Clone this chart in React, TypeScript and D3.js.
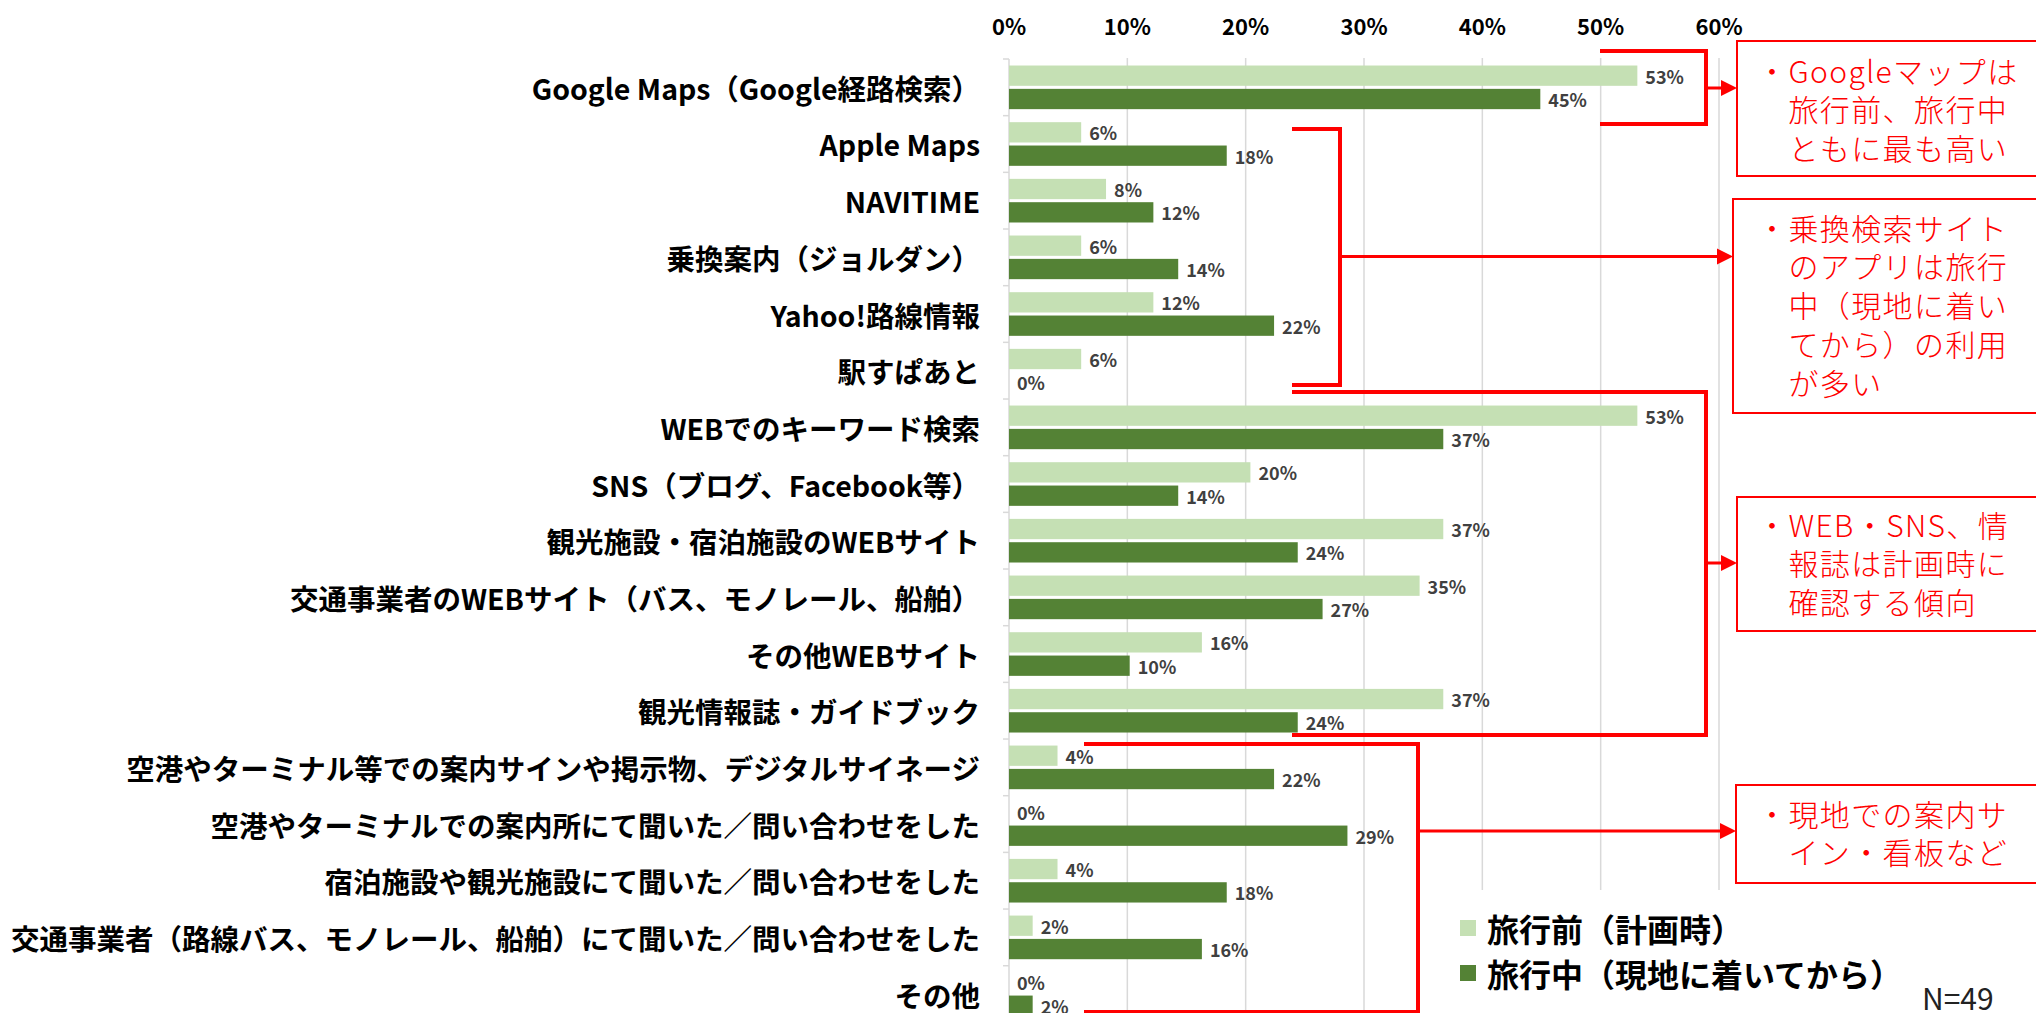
import React from "react";
import * as d3 from "d3";

const categories = [
  "Google Maps（Google経路検索）",
  "Apple Maps",
  "NAVITIME",
  "乗換案内（ジョルダン）",
  "Yahoo!路線情報",
  "駅すぱあと",
  "WEBでのキーワード検索",
  "SNS（ブログ、Facebook等）",
  "観光施設・宿泊施設のWEBサイト",
  "交通事業者のWEBサイト（バス、モノレール、船舶）",
  "その他WEBサイト",
  "観光情報誌・ガイドブック",
  "空港やターミナル等での案内サインや掲示物、デジタルサイネージ",
  "空港やターミナルでの案内所にて聞いた／問い合わせをした",
  "宿泊施設や観光施設にて聞いた／問い合わせをした",
  "交通事業者（路線バス、モノレール、船舶）にて聞いた／問い合わせをした",
  "その他",
];

const beforeTrip = [53.1, 6.1, 8.2, 6.1, 12.2, 6.1, 53.1, 20.4, 36.7, 34.7, 16.3, 36.7, 4.1, 0, 4.1, 2.0, 0];
const duringTrip = [44.9, 18.4, 12.2, 14.3, 22.4, 0, 36.7, 14.3, 24.4, 26.5, 10.2, 24.4, 22.4, 28.6, 18.4, 16.3, 2.0];

const seriesNames = ["旅行前（計画時）", "旅行中（現地に着いてから）"];
const seriesColors = ["#C5E0B4", "#548235"];
const xTicks = [0, 10, 20, 30, 40, 50, 60];

const noteTexts = [
  ["・Googleマップは", "　旅行前、旅行中", "　ともに最も高い"],
  ["・乗換検索サイト", "　のアプリは旅行", "　中（現地に着い", "　てから）の利用", "　が多い"],
  ["・WEB・SNS、情", "　報誌は計画時に", "　確認する傾向"],
  ["・現地での案内サ", "　イン・看板など"],
];

// annotation layout (pixel geometry of the callouts)
const noteBoxes = [
  { x: 1737, y: 41, h: 135, lines: [70, 108, 147] },
  { x: 1733, y: 199, h: 214, lines: [227, 265, 304, 343, 382] },
  { x: 1737, y: 497, h: 134, lines: [524, 562, 601] },
  { x: 1736, y: 785, h: 98, lines: [813, 851] },
];
const brackets = [
  { x0: 1600, x1: 1706, y0: 51, y1: 124, ay: 88, tip: 1737 },
  { x0: 1292, x1: 1340, y0: 129, y1: 385, ay: 256.5, tip: 1733 },
  { x0: 1292, x1: 1706, y0: 392, y1: 735, ay: 563, tip: 1737 },
  { x0: 1084, x1: 1418, y0: 744, y1: 1012, ay: 831, tip: 1736 },
];

const FONT = "'Noto Sans CJK JP', 'Noto Sans', sans-serif";
const RED = "#FF0000";

export default function App() {
  const W = 2036;
  const H = 1013;
  const x = d3.scaleLinear().domain([0, 60]).range([1009, 1719]);
  const y0 = d3
    .scaleBand<string>()
    .domain(categories)
    .range([59, 59 + 17 * 56.67])
    .paddingInner(0.23)
    .paddingOuter(0.115);
  const y1 = d3
    .scaleBand<number>()
    .domain([0, 1])
    .range([0, y0.bandwidth()])
    .paddingInner(0.13);
  const step = y0.step();
  const top = y0.range()[0];
  const series = [beforeTrip, duringTrip];

  return (
    <svg
      width={W}
      height={H}
      style={{ position: "absolute", left: 0, top: 0, background: "#fff" }}
      fontFamily={FONT}
    >
      <rect x={0} y={0} width={W} height={H} fill="#fff" />
      {/* gridlines */}
      {xTicks.slice(1).map((t) => (
        <line key={t} x1={x(t)} x2={x(t)} y1={58} y2={H} stroke="#D9D9D9" strokeWidth={1.5} />
      ))}
      {/* axis line + tick marks */}
      <line x1={x(0)} x2={x(0)} y1={top} y2={H} stroke="#D9D9D9" strokeWidth={1.5} />
      {d3.range(categories.length + 1).map((i) => (
        <line key={i} x1={x(0) - 6} x2={x(0)} y1={top + i * step} y2={top + i * step} stroke="#D9D9D9" strokeWidth={1.5} />
      ))}
      {/* tick labels */}
      {xTicks.map((t) => (
        <text key={t} x={x(t)} y={25} textAnchor="middle" dominantBaseline="central" fontSize={22} fontWeight="bold" fill="#000">
          {t + "%"}
        </text>
      ))}
      {/* bars */}
      {categories.map((c, i) => (
        <g key={c} transform={`translate(0,${y0(c)})`}>
          {series.map((vals, s) => (
            <g key={s}>
              <rect
                x={x(0)}
                y={y1(s)}
                width={x(vals[i]) - x(0)}
                height={y1.bandwidth()}
                fill={seriesColors[s]}
              />
              <text
                x={x(vals[i]) + 8}
                y={(y1(s) as number) + y1.bandwidth() / 2}
                dominantBaseline="central"
                fontSize={18}
                fontWeight="bold"
                fill="#404040"
              >
                {Math.round(vals[i]) + "%"}
              </text>
            </g>
          ))}
          <text
            x={980}
            y={y0.bandwidth() / 2}
            textAnchor="end"
            dominantBaseline="central"
            fontSize={28.5}
            fontWeight="bold"
            fill="#000"
          >
            {c}
          </text>
        </g>
      ))}
      {/* legend background */}
      <rect x={1430} y={890} width={620} height={130} fill="#fff" />
      {seriesNames.map((n, s) => (
        <g key={n}>
          <rect x={1460} y={920 + s * 45} width={16} height={16} fill={seriesColors[s]} />
          <text x={1487} y={928 + s * 45} dominantBaseline="central" fontSize={32} fontWeight="bold" fill="#000">
            {n}
          </text>
        </g>
      ))}
      <text x={1922} y={997} dominantBaseline="central" fontSize={30} fill="#222">
        N=49
      </text>
      {/* brackets and arrows */}
      {brackets.map((b, i) => (
        <g key={i}>
          <path
            d={`M${b.x0},${b.y0}H${b.x1}V${b.y1}H${b.x0}`}
            fill="none"
            stroke={RED}
            strokeWidth={4}
            strokeLinejoin="miter"
          />
          <line x1={b.x1} x2={b.tip - 14} y1={b.ay} y2={b.ay} stroke={RED} strokeWidth={3} />
          <path d={`M${b.tip - 16},${b.ay - 8}L${b.tip},${b.ay}L${b.tip - 16},${b.ay + 8}Z`} fill={RED} />
        </g>
      ))}
      {/* note boxes */}
      {noteBoxes.map((b, i) => (
        <g key={i}>
          <rect x={b.x} y={b.y} width={W + 20 - b.x} height={b.h} fill="#fff" stroke={RED} strokeWidth={2} />
          {noteTexts[i].map((t, j) => (
            <text
              key={j}
              x={1757}
              y={b.lines[j]}
              dominantBaseline="central"
              fontSize={30}
              fontWeight={300}
              letterSpacing={1.4}
              fill={RED}
              style={{ whiteSpace: "pre" }}
            >
              {t}
            </text>
          ))}
        </g>
      ))}
    </svg>
  );
}
